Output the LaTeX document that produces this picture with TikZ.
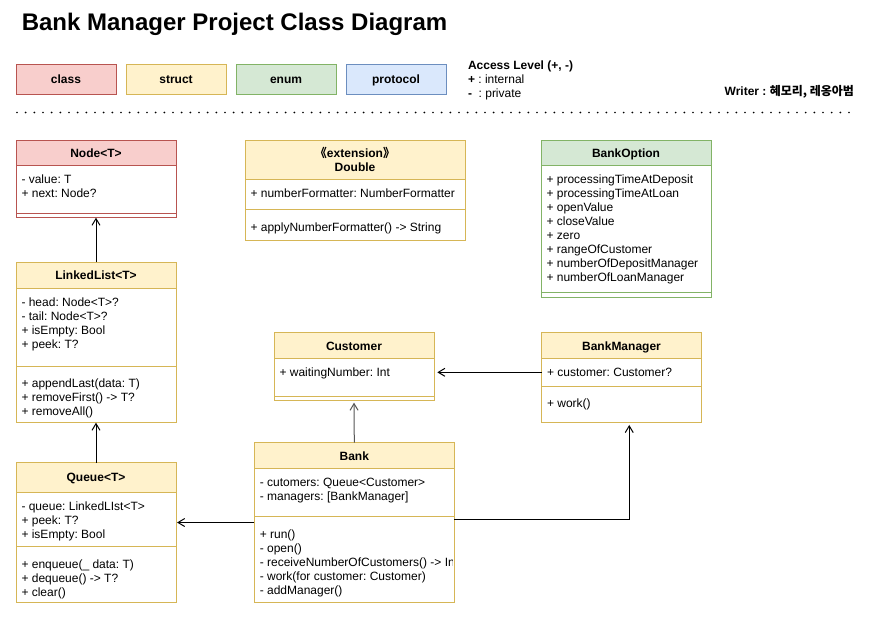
\documentclass[tikz,border=0pt]{standalone}
\usepackage{fontspec}
\setmainfont{Liberation Sans}
\newfontfamily\kr{Noto Sans CJK KR}
\usetikzlibrary{arrows.meta,fit}
\definecolor{classfill}{HTML}{F8CECC}
\definecolor{classdraw}{HTML}{B85450}
\definecolor{structfill}{HTML}{FFF2CC}
\definecolor{structdraw}{HTML}{D6B656}
\definecolor{enumfill}{HTML}{D5E8D4}
\definecolor{enumdraw}{HTML}{82B366}
\definecolor{protofill}{HTML}{DAE8FC}
\definecolor{protodraw}{HTML}{6C8EBF}
\definecolor{linkgray}{HTML}{555555}
\tikzset{
  base/.style={line width=0.75pt},
  t/.style={inner sep=0pt, outer sep=0pt, anchor=west, text height=6.45pt, text depth=0pt, font=\fontsize{9}{10.5}\selectfont},
  hd/.style={t, anchor=center, font=\fontsize{9}{10.5}\selectfont\bfseries},
  umlbox/.style={inner sep=0pt, outer sep=0pt, line width=0.75pt, draw, fit={#1}},
  legend/.style={draw, line width=0.75pt, minimum width=75pt, minimum height=22.5pt, inner sep=0pt, text height=6.45pt, text depth=0pt, font=\fontsize{9}{10.5}\selectfont\bfseries},
  arr/.style={line width=0.75pt, -{Straight Barb[length=5pt,width=6pt,line width=0.75pt]}},
}
\newcommand\umlrows[4]{%
  \foreach \s [count=\i] in {#4} {\node[t] (#1\i) at ({#2},{#3+14*(\i-1)}) {\s};}}
\begin{document}
\frenchspacing
\begin{tikzpicture}[x=0.75pt,y=-0.75pt]
\path[use as bounding box, fill=white] (0,0) rectangle (870,619);

% title
\node[inner sep=0pt, anchor=west, text height=12.9pt, text depth=0pt, font=\fontsize{18}{21}\selectfont\bfseries] (title) at (21.5,22) {Bank Manager Project Class Diagram};

% legend
\node[legend, fill=classfill, draw=classdraw] (lgclass) at (66,79) {class};
\node[legend, fill=structfill, draw=structdraw] (lgstruct) at (176,79) {struct};
\node[legend, fill=enumfill, draw=enumdraw] (lgenum) at (286,79) {enum};
\node[legend, fill=protofill, draw=protodraw] (lgproto) at (396,79) {protocol};
\node[t, font=\fontsize{9}{10.5}\selectfont\bfseries] (acc) at (468,65) {Access Level (+, -)};
\node[t] (acc1) at (468,79.3) {\textbf{+} : internal};
\node[t] (acc2) at (468,93.3) {\textbf{-}\ \ : private};
\node[t, anchor=east, font=\fontsize{9}{10.5}\selectfont\bfseries] (writer) at (854,91.5) {Writer : {\kr 혜모리, 레옹아범}};

% separator
\draw[line width=1.4pt, line cap=round, dash pattern=on 0pt off 6.5pt] (17,112.5) -- (852,112.5);

% Node<T>
\fill[classfill] (16,140) rectangle (176,165);
\node[umlbox={(16,140)(176,217)}, draw=classdraw] (nodeT) {};
\draw[base, classdraw] (16,165) -- (176,165) (16,213) -- (176,213);
\node[hd] (nodeTh) at (96,153.3) {Node<T>};
\umlrows{nodeTa}{21.5}{179.3}{- value: T, + next: Node?}

% extension Double
\fill[structfill] (245,140) rectangle (465,179.5);
\node[umlbox={(245,140)(465,240)}, draw=structdraw] (ext) {};
\draw[base, structdraw] (245,179.5) -- (465,179.5) (245,209.5) -- (465,209.5);
\node[hd] (exth1) at (355,153.3) {{\kr 《}extension{\kr 》}};
\node[hd] (exth2) at (355,166.7) {Double};
\node[t] (exta1) at (250.5,192.7) {+ numberFormatter: NumberFormatter};
\node[t] (extm1) at (250.5,227.3) {+ applyNumberFormatter() -> String};

% BankOption
\fill[enumfill] (541,140) rectangle (711,165.5);
\node[umlbox={(541,140)(711,297)}, draw=enumdraw] (opt) {};
\draw[base, enumdraw] (541,165.5) -- (711,165.5) (541,292.5) -- (711,292.5);
\node[hd] (opth) at (626,153.3) {BankOption};
\umlrows{opta}{546.5}{179}{+ processingTimeAtDeposit, + processingTimeAtLoan, + openValue, + closeValue, + zero, + rangeOfCustomer, + numberOfDepositManager, + numberOfLoanManager}

% LinkedList<T>
\fill[structfill] (16,262) rectangle (176,288.3);
\node[umlbox={(16,262)(176,422)}, draw=structdraw] (ll) {};
\draw[base, structdraw] (16,288.3) -- (176,288.3) (16,366.7) -- (176,366.7);
\node[hd] (llh) at (96,275.3) {LinkedList<T>};
\umlrows{lla}{21.5}{301.7}{- head: Node<T>?, - tail: Node<T>?, + isEmpty: Bool, + peek: T?}
\umlrows{llm}{21.5}{383.3}{+ appendLast(data: T), + removeFirst() -> T?, + removeAll()}

% Queue<T>
\fill[structfill] (16,462.5) rectangle (176,492.3);
\node[umlbox={(16,462.5)(176,602.3)}, draw=structdraw] (queue) {};
\draw[base, structdraw] (16,492.3) -- (176,492.3) (16,546.7) -- (176,546.7);
\node[hd] (queueh) at (96,477.3) {Queue<T>};
\umlrows{queuea}{21.5}{506}{- queue: LinkedLIst<T>, + peek: T?, + isEmpty: Bool}
\umlrows{queuem}{21.5}{564.3}{+ enqueue(\_ data: T), + dequeue() -> T?, + clear()}

% Customer
\fill[structfill] (274,332.5) rectangle (434,358.3);
\node[umlbox={(274,332.5)(434,400)}, draw=structdraw] (cust) {};
\draw[base, structdraw] (274,358.3) -- (434,358.3) (274,396.7) -- (434,396.7);
\node[hd] (custh) at (354,345.7) {Customer};
\node[t] (custa1) at (279.5,372.3) {+ waitingNumber: Int};

% BankManager
\fill[structfill] (541.5,332.5) rectangle (701.5,358.3);
\node[umlbox={(541.5,332.5)(701.5,422.3)}, draw=structdraw] (bm) {};
\draw[base, structdraw] (541.5,358.3) -- (701.5,358.3) (541.5,386.7) -- (701.5,386.7);
\node[hd] (bmh) at (621.5,345.7) {BankManager};
\node[t] (bma1) at (547,372.3) {+ customer: Customer?};
\node[t] (bmm1) at (547,403.3) {+ work()};

% Bank
\fill[structfill] (254.3,442.7) rectangle (454.3,468.3);
\node[umlbox={(254.3,442.7)(454.3,602.3)}, draw=structdraw] (bank) {};
\draw[base, structdraw] (254.3,468.3) -- (454.3,468.3) (254.3,516.7) -- (454.3,516.7);
\node[hd] (bankh) at (354.3,455.7) {Bank};
\umlrows{banka}{259.8}{482}{- cutomers: Queue<Customer>, - managers: [BankManager]}
\begin{scope}
\clip (255,469) rectangle (452.6,601.5);
\umlrows{bankm}{259.8}{534.3}{+ run(), - open(), - receiveNumberOfCustomers() -> Int, - work(for customer: Customer), - addManager()}
\end{scope}

% connectors
\draw[arr, shorten >=0.5pt] (ll.north) -- (nodeT.south);
\draw[arr, shorten >=0.5pt] (queue.north) -- (ll.south);
\draw[arr, shorten >=0.8pt] (bank.west) -- (bank.west -| queue.east);
\draw[arr, draw=linkgray, shorten >=2pt] (bank.north) -- (cust.south);
\draw[arr, shorten >=2.5pt] (bm.west |- bma1) -- (cust.east |- bma1);
\draw[arr, shorten >=2pt] ([yshift=2.25pt]bank.east) -| ([xshift=5.8pt]bm.south);
\end{tikzpicture}
\end{document}
